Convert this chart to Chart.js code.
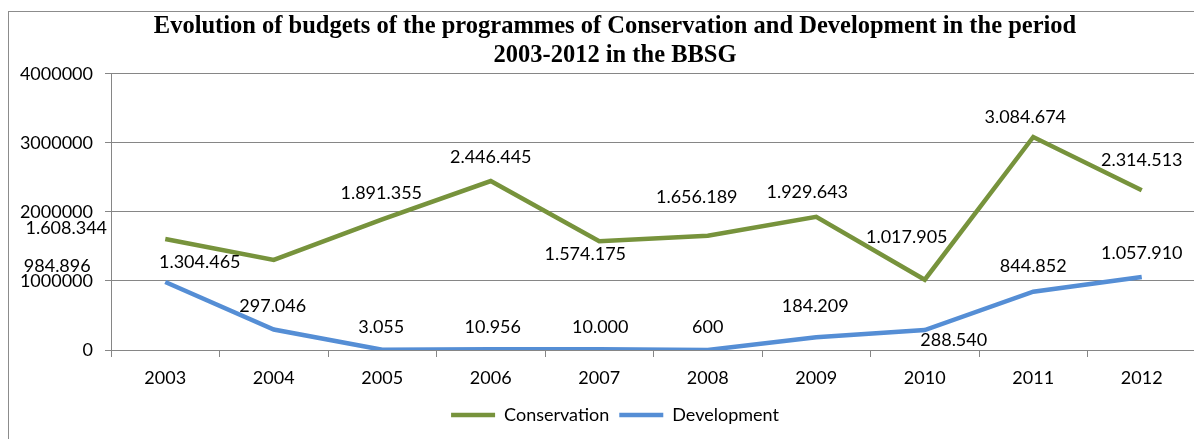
<!DOCTYPE html>
<html>
<head>
<meta charset="utf-8">
<script src="https://cdn.jsdelivr.net/npm/chart.js@4.4.0/dist/chart.umd.min.js"></script>
<style>
  html, body { margin: 0; padding: 0; background: #fff; overflow: hidden; }
  #frame { position: absolute; left: 8px; top: 11px; width: 1212px; height: 432px; border: 1px solid #8c8c8c; }
  canvas { display: block; }
</style>
</head>
<body>
<div id="frame"><canvas id="myChart" width="1212" height="432"></canvas></div>
<script>
const years = ['2003', '2004', '2005', '2006', '2007', '2008', '2009', '2010', '2011', '2012'];
const conservation = [1608344, 1304465, 1891355, 2446445, 1574175, 1656189, 1929643, 1017905, 3084674, 2314513];
const development = [984896, 297046, 3055, 10956, 10000, 600, 184209, 288540, 844852, 1057910];
const yTicks = [0, 1000000, 2000000, 3000000, 4000000];

const axisColor = '#868686';
const textFont = { family: 'Lato', size: 18 };

// thousands with dots, like the source
const fmt = v => String(v).replace(/\B(?=(\d{3})+(?!\d))/g, '.');

// value labels, nudged per point the way they were placed by hand in the original
const valueLabels = {
    id: 'valueLabels',
    afterDatasetsDraw(chart) {
        const ctx = chart.ctx;
        ctx.save();
        ctx.font = '18px Lato';
        ctx.fillStyle = '#000';
        ctx.textAlign = 'center';
        ctx.textBaseline = 'middle';
        chart.data.datasets.forEach((ds, i) => {
            chart.getDatasetMeta(i).data.forEach((pt, j) => {
                const [dx, dy] = ds.labelOffsets[j];
                ctx.fillText(fmt(ds.data[j]), pt.x + dx, pt.y + dy);
            });
        });
        ctx.restore();
    }
};

config = {
    type: 'line',
    data: {
        labels: years,
        datasets: [{
            label: 'Conservation',
            data: conservation,
            borderColor: '#77933C',
            backgroundColor: '#77933C',
            borderWidth: 4.5,
            pointRadius: 0,
            tension: 0,
            labelOffsets: [[-99, -11], [-74, 2], [-1, -26], [0, -24], [-14, 13], [-11, -38], [-9, -25], [-18, -43], [-8, -20], [0, -30]]
        }, {
            label: 'Development',
            data: development,
            borderColor: '#558ED5',
            backgroundColor: '#558ED5',
            borderWidth: 4.5,
            pointRadius: 0,
            tension: 0,
            labelOffsets: [[-108, -16], [-1, -23], [-1, -23], [2, -22], [1, -22], [0, -23], [-1, -31], [29, 10], [0, -25], [0, -24]]
        }]
    },
    options: {
        responsive: false,
        animation: false,
        layout: { padding: { left: 0, right: 0, top: 0, bottom: 10 } },
        scales: {
            x: {
                offset: true,
                afterFit: s => { s.height = 46; },
                grid: { offset: true, drawOnChartArea: false, tickLength: 7, color: axisColor },
                border: { color: axisColor },
                ticks: { font: textFont, color: '#000', padding: 10 }
            },
            y: {
                min: yTicks[0],
                max: yTicks[yTicks.length - 1],
                afterFit: s => { s.width = 102; },
                grid: { color: axisColor, tickLength: 6 },
                border: { color: axisColor },
                ticks: { stepSize: yTicks[1] - yTicks[0], padding: 12, font: textFont, color: '#000', callback: v => String(v) }
            },
            // empty right gutter so the plot stops short of the frame edge
            gutter: {
                type: 'linear',
                position: 'right',
                grid: { display: false, drawTicks: false },
                border: { display: false },
                ticks: { display: false },
                afterFit: s => { s.width = 25; }
            }
        },
        plugins: {
            title: {
                display: true,
                text: ['Evolution of budgets of the programmes of Conservation and Development in the period', '2003-2012 in the BBSG'],
                font: { family: 'Liberation Serif', size: 24.5, weight: 'bold', lineHeight: 1.2 },
                color: '#000',
                padding: { top: 0, bottom: 3 }
            },
            legend: {
                position: 'bottom',
                labels: {
                    usePointStyle: true,
                    pointStyle: 'line',
                    pointStyleWidth: 44,
                    font: textFont,
                    color: '#000',
                    padding: 10
                }
            },
            tooltip: { enabled: false }
        }
    },
    plugins: [valueLabels]
};

function buildChart(){
    const ctx = document.getElementById('myChart').getContext('2d');
    return new Chart(ctx, config);
}

window.addEventListener('load', () => {
    buildChart();
});
</script>
</body>
</html>
